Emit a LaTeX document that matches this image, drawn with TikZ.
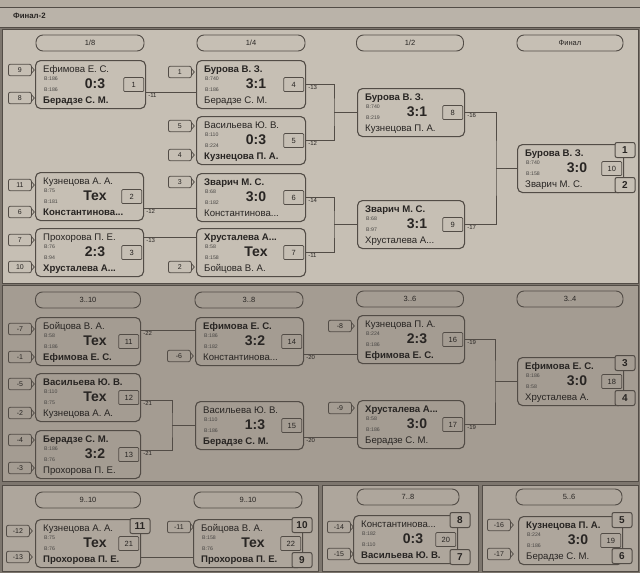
\documentclass[tikz,border=0pt]{standalone}
\usepackage{fontspec}
\setmainfont{Liberation Sans}
\usetikzlibrary{calc}
\definecolor{hdrc}{RGB}{186,179,169}
\definecolor{topc}{RGB}{198,191,180}
\definecolor{midc}{RGB}{164,156,146}
\definecolor{botc}{RGB}{174,166,156}
\definecolor{bgc}{RGB}{125,118,110}
\definecolor{lc}{RGB}{82,76,70}
\definecolor{tc}{RGB}{40,37,35}
\tikzset{
  mbox/.style={draw=lc, line width=1.1pt, rounded corners=5pt, minimum height=48pt, inner sep=0pt, anchor=north west},
  nm/.style={inner sep=0pt, text=tc, font=\fontsize{9.6}{10}\selectfont},
  scr/.style={inner sep=0pt, text=tc, font=\fontsize{14}{15}\selectfont\bfseries},
  smt/.style={inner sep=0pt, text=tc!85, font=\fontsize{5.2}{6}\selectfont},
  numb/.style={draw=lc, line width=0.7pt, rounded corners=1pt, minimum width=20pt, minimum height=14pt, inner sep=0pt, text=tc, font=\fontsize{7.5}{8}\selectfont},
  plc/.style={draw=lc, line width=1pt, rounded corners=2pt, minimum width=20pt, minimum height=15pt, inner sep=0pt, text=tc, font=\fontsize{10}{10}\selectfont\bfseries},
  seedb/.style={draw=lc, line width=0.8pt, rounded corners=2pt, minimum width=23pt, minimum height=11.5pt, inner sep=0pt, text=tc, font=\fontsize{7}{7}\selectfont},
  pill/.style={draw=lc, line width=0.9pt, rounded corners=7pt, minimum height=16pt, inner sep=0pt, text=tc, font=\fontsize{7.5}{8}\selectfont},
  lbl/.style={inner sep=0pt, text=tc, font=\fontsize{6}{6}\selectfont},
  conn/.style={draw=lc, line width=1pt},
  panel/.style={draw=lc, line width=0.9pt}
}
\newcommand\mtch[8]{%
  \node[mbox, minimum width=#4pt] (#1) at (#2,#3) {};
  \node[nm, anchor=base west] (#1a) at ($(#1.north west)+(8,12.5)$) {#5};
  \node[nm, anchor=base west] (#1b) at ($(#1.north west)+(8,43.5)$) {#6};
  \node[scr] (#1s) at ($(#1.north west)+(60,24)$) {#7};
  \node[numb, anchor=east] (#1n) at ($(#1.east)+(-2,0)$) {#8};
}
\newcommand\smt[3]{%
  \node[smt, anchor=base west] (#1x) at ($(#1.north west)+(9,20.5)$) {#2};
  \node[smt, anchor=base west] (#1y) at ($(#1.north west)+(9,31)$) {#3};
}
\newcommand\sdbox[4]{%
  \node[seedb, anchor=west] (#1) at (#2,#3) {#4};
  \draw[lc, line width=0.7pt] ($(#1.east)+(0,-3)$) -- ($(#1.east)+(2.5,0)$) -- ($(#1.east)+(0,3)$);
}
\newcommand\outl[4]{%
  \coordinate (#1) at (#2.east |- 0,#3);
  \node[lbl, anchor=north west] (#1l) at ($(#1)+(2,0.8)$) {#4};
}
\begin{document}
\begin{tikzpicture}[x=1pt,y=-1pt]
\useasboundingbox (0,0) rectangle (640,573);
\fill[bgc] (0,0) rectangle (640,573);
% header
\fill[hdrc!110] (0,0) rectangle (640,7);
\fill[hdrc] (0,7) rectangle (640,27);
\draw[lc, line width=0.8pt] (0,7) -- (640,7);
\draw[lc, line width=0.8pt] (0,27) -- (640,27);
\node[inner sep=0pt, text=tc, font=\fontsize{7.8}{8}\selectfont\bfseries, anchor=west] (title) at (13,16) {Финал-2};
% panels
\filldraw[panel, fill=topc] (2,29) rectangle (638,283);
\filldraw[panel, fill=midc] (2,285) rectangle (638,481);
\filldraw[panel, fill=botc] (2,485) rectangle (318,571);
\filldraw[panel, fill=botc] (322,485) rectangle (478,571);
\filldraw[panel, fill=botc] (482,485) rectangle (638,571);
% pills
\node[pill, minimum width=108pt] (p18) at (90,43) {1/8};
\node[pill, minimum width=108pt] (p14) at (251,43) {1/4};
\node[pill, minimum width=107pt] (p12) at (410,43) {1/2};
\node[pill, minimum width=106pt] (pf) at (570,43) {Финал};
\node[pill, minimum width=105pt] (q310) at (88,300) {3..10};
\node[pill, minimum width=108pt] (q38) at (249,300) {3..8};
\node[pill, minimum width=107pt] (q36) at (410,299) {3..6};
\node[pill, minimum width=106pt] (q34) at (570,299) {3..4};
\node[pill, minimum width=105pt] (r910a) at (88,500) {9..10};
\node[pill, minimum width=108pt] (r910b) at (248,500) {9..10};
\node[pill, minimum width=102pt] (r78) at (408,497) {7..8};
\node[pill, minimum width=106pt] (r56) at (569,497) {5..6};
% ---------- top section ----------
\mtch{m1}{35}{60}{110}{Ефимова Е. С.}{\bfseries Берадзе С. М.}{0:3}{1}
\mtch{m2}{35}{172}{108}{Кузнецова А. А.}{\bfseries Константинова...}{Тех}{2}
\mtch{m3}{35}{228}{108}{Прохорова П. Е.}{\bfseries Хрусталева А...}{2:3}{3}
\mtch{m4}{196}{60}{109}{\bfseries Бурова В. З.}{Берадзе С. М.}{3:1}{4}
\mtch{m5}{196}{116}{109}{Васильева Ю. В.}{\bfseries Кузнецова П. А.}{0:3}{5}
\mtch{m6}{196}{173}{109}{\bfseries Зварич М. С.}{Константинова...}{3:0}{6}
\mtch{m7}{196}{228}{109}{\bfseries Хрусталева А...}{Бойцова В. А.}{Тех}{7}
\mtch{m8}{357}{88}{107}{\bfseries Бурова В. З.}{Кузнецова П. А.}{3:1}{8}
\mtch{m9}{357}{200}{107}{\bfseries Зварич М. С.}{Хрусталева А...}{3:1}{9}
\mtch{m10}{517}{144}{106}{\bfseries Бурова В. З.}{Зварич М. С.}{3:0}{10}
\smt{m1}{В:186}{В:186}
\smt{m2}{В:75}{В:181}
\smt{m3}{В:76}{В:94}
\smt{m4}{В:740}{В:186}
\smt{m5}{В:110}{В:224}
\smt{m6}{В:68}{В:182}
\smt{m7}{В:58}{В:158}
\smt{m8}{В:740}{В:219}
\smt{m9}{В:68}{В:97}
\smt{m10}{В:740}{В:158}
% seeds top
\sdbox{s9}{8}{70}{9}
\sdbox{s8}{8}{98}{8}
\sdbox{s11}{8}{185}{11}
\sdbox{s6}{8}{212}{6}
\sdbox{s7}{8}{240}{7}
\sdbox{s10}{8}{267}{10}
\sdbox{s1}{168}{72}{1}
\sdbox{s5}{168}{126}{5}
\sdbox{s4}{168}{155}{4}
\sdbox{s3}{168}{182}{3}
\sdbox{s2}{168}{267}{2}
% connectors top
\outl{o1}{m1}{92}{-11}
\draw[conn] (o1) -- (m4.west |- o1);
\outl{o2}{m2}{208}{-12}
\draw[conn] (o2) -- (m6.west |- o2);
\outl{o3}{m3}{237}{-13}
\draw[conn] (o3) -- (m7.west |- o3);
\outl{o4}{m4}{84}{-13}
\outl{o5}{m5}{140}{-12}
\coordinate (j45) at (334,112);
\draw[conn] (o4) -| (j45) |- (o5);
\draw[conn] (j45) -- (j45 -| m8.west);
\outl{o6}{m6}{197}{-14}
\outl{o7}{m7}{252}{-11}
\coordinate (j67) at (334,224);
\draw[conn] (o6) -| (j67) |- (o7);
\draw[conn] (j67) -- (j67 -| m9.west);
\outl{o8}{m8}{112}{-16}
\outl{o9}{m9}{224}{-17}
\coordinate (j89) at (496,168);
\draw[conn] (o8) -| (j89) |- (o9);
\draw[conn] (j89) -- (j89 -| m10.west);
\node[plc, fill=topc] (pl1) at (625,150) {1};
\node[plc, fill=topc] (pl2) at (625,185) {2};
% ---------- middle section ----------
\mtch{m11}{35}{317}{105}{Бойцова В. А.}{\bfseries Ефимова Е. С.}{Тех}{11}
\mtch{m12}{35}{373}{105}{\bfseries Васильева Ю. В.}{Кузнецова А. А.}{Тех}{12}
\mtch{m13}{35}{430}{105}{\bfseries Берадзе С. М.}{Прохорова П. Е.}{3:2}{13}
\mtch{m14}{195}{317}{108}{\bfseries Ефимова Е. С.}{Константинова...}{3:2}{14}
\mtch{m15}{195}{401}{108}{Васильева Ю. В.}{\bfseries Берадзе С. М.}{1:3}{15}
\mtch{m16}{357}{315}{107}{Кузнецова П. А.}{\bfseries Ефимова Е. С.}{2:3}{16}
\mtch{m17}{357}{400}{107}{\bfseries Хрусталева А...}{Берадзе С. М.}{3:0}{17}
\mtch{m18}{517}{357}{106}{\bfseries Ефимова Е. С.}{Хрусталева А.}{3:0}{18}
\smt{m11}{В:58}{В:186}
\smt{m12}{В:110}{В:75}
\smt{m13}{В:186}{В:76}
\smt{m14}{В:186}{В:182}
\smt{m15}{В:110}{В:186}
\smt{m16}{В:224}{В:186}
\smt{m17}{В:58}{В:186}
\smt{m18}{В:186}{В:58}
\sdbox{t7}{8}{329}{-7}
\sdbox{t1}{8}{357}{-1}
\sdbox{t5}{8}{384}{-5}
\sdbox{t2}{8}{413}{-2}
\sdbox{t4}{8}{440}{-4}
\sdbox{t3}{8}{468}{-3}
\sdbox{t6}{167}{356}{-6}
\sdbox{t8}{328}{326}{-8}
\sdbox{t9}{328}{408}{-9}
\outl{o11}{m11}{330}{-22}
\draw[conn] (o11) -- (m14.west |- o11);
\outl{o12}{m12}{400}{-21}
\outl{o13}{m13}{450}{-21}
\coordinate (j1213) at (172,425);
\draw[conn] (o12) -| (j1213) |- (o13);
\draw[conn] (j1213) -- (j1213 -| m15.west);
\outl{o14}{m14}{354}{-20}
\draw[conn] (o14) -- (m16.west |- o14);
\outl{o15}{m15}{437}{-20}
\draw[conn] (o15) -- (m17.west |- o15);
\outl{o16}{m16}{339}{-19}
\outl{o17}{m17}{424}{-19}
\coordinate (j1617) at (495,381);
\draw[conn] (o16) -| (j1617) |- (o17);
\draw[conn] (j1617) -- (j1617 -| m18.west);
\node[plc, fill=midc] (pl3) at (625,363) {3};
\node[plc, fill=midc] (pl4) at (625,398) {4};
% ---------- bottom section ----------
\mtch{m21}{35}{519}{105}{Кузнецова А. А.}{\bfseries Прохорова П. Е.}{Тех}{21}
\mtch{m22}{193}{519}{109}{Бойцова В. А.}{\bfseries Прохорова П. Е.}{Тех}{22}
\mtch{m20}{353}{515}{104}{Константинова...}{\bfseries Васильева Ю. В.}{0:3}{20}
\mtch{m19}{518}{516}{104}{\bfseries Кузнецова П. А.}{Берадзе С. М.}{3:0}{19}
\smt{m21}{В:75}{В:76}
\smt{m22}{В:158}{В:76}
\smt{m20}{В:182}{В:110}
\smt{m19}{В:224}{В:186}
\sdbox{u12}{6}{531}{-12}
\sdbox{u13}{6}{557}{-13}
\sdbox{u11}{167}{527}{-11}
\sdbox{u14}{327}{527}{-14}
\sdbox{u15}{327}{554}{-15}
\sdbox{u16}{487}{525}{-16}
\sdbox{u17}{487}{554}{-17}
\coordinate (o21) at (m21.east |- 0,557);
\draw[conn] (o21) -- (m22.west |- o21);
\node[plc, fill=botc] (pl11) at (140,526) {11};
\node[plc, fill=botc] (pl10) at (302,525) {10};
\node[plc, fill=botc] (pl9) at (302,560) {9};
\node[plc, fill=botc] (pl8) at (460,520) {8};
\node[plc, fill=botc] (pl7) at (460,557) {7};
\node[plc, fill=botc] (pl5) at (622,520) {5};
\node[plc, fill=botc] (pl6) at (622,556) {6};
\end{tikzpicture}
\end{document}
